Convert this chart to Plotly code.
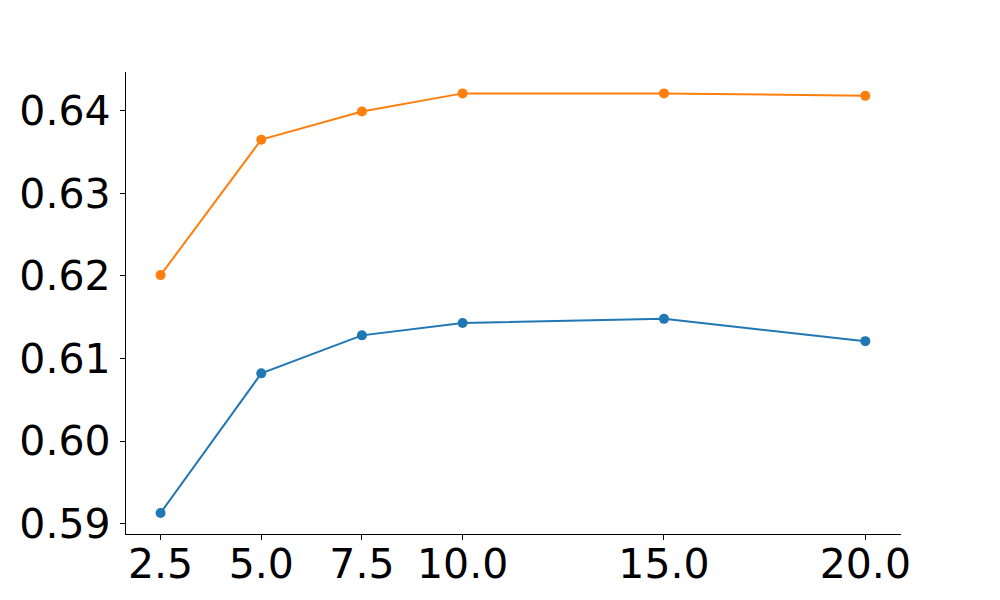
import plotly.graph_objects as go

x_vals = [2.5, 5.0, 7.5, 10.0, 15.0, 20.0]
blue_vals = [0.5913, 0.6082, 0.6128, 0.6143, 0.6148, 0.6121]
orange_vals = [0.6201, 0.6365, 0.6399, 0.6421, 0.6421, 0.6418]
x_ticks = [2.5, 5.0, 7.5, 10.0, 15.0, 20.0]
x_tick_labels = ["2.5", "5.0", "7.5", "10.0", "15.0", "20.0"]
y_ticks = [0.59, 0.60, 0.61, 0.62, 0.63, 0.64]
y_tick_labels = ["0.59", "0.60", "0.61", "0.62", "0.63", "0.64"]

fig = go.Figure()
fig.add_trace(go.Scatter(x=x_vals, y=blue_vals, mode="lines+markers",
                         line=dict(color="#1f77b4", width=2),
                         marker=dict(color="#1f77b4", size=10)))
fig.add_trace(go.Scatter(x=x_vals, y=orange_vals, mode="lines+markers",
                         line=dict(color="#ff7f0e", width=2),
                         marker=dict(color="#ff7f0e", size=10)))

axis_common = dict(showline=True, linecolor="black", linewidth=1.3, mirror=False,
                   showgrid=False, zeroline=False, ticks="outside", ticklen=5,
                   tickwidth=1, tickcolor="black", automargin=False,
                   tickfont=dict(family="DejaVu Sans", size=41, color="black"))

fig.update_layout(
    width=992, height=592,
    margin=dict(l=118, r=99, t=64, b=66),
    paper_bgcolor="white", plot_bgcolor="white",
    showlegend=False,
    xaxis=dict(range=[1.641, 20.886], tickvals=x_ticks, ticktext=x_tick_labels,
               ticklabelstandoff=-11, **axis_common),
    yaxis=dict(range=[0.58875, 0.64469], tickvals=y_ticks, ticktext=y_tick_labels,
               ticklabelstandoff=1, **axis_common),
)

fig.write_html("out.html")
